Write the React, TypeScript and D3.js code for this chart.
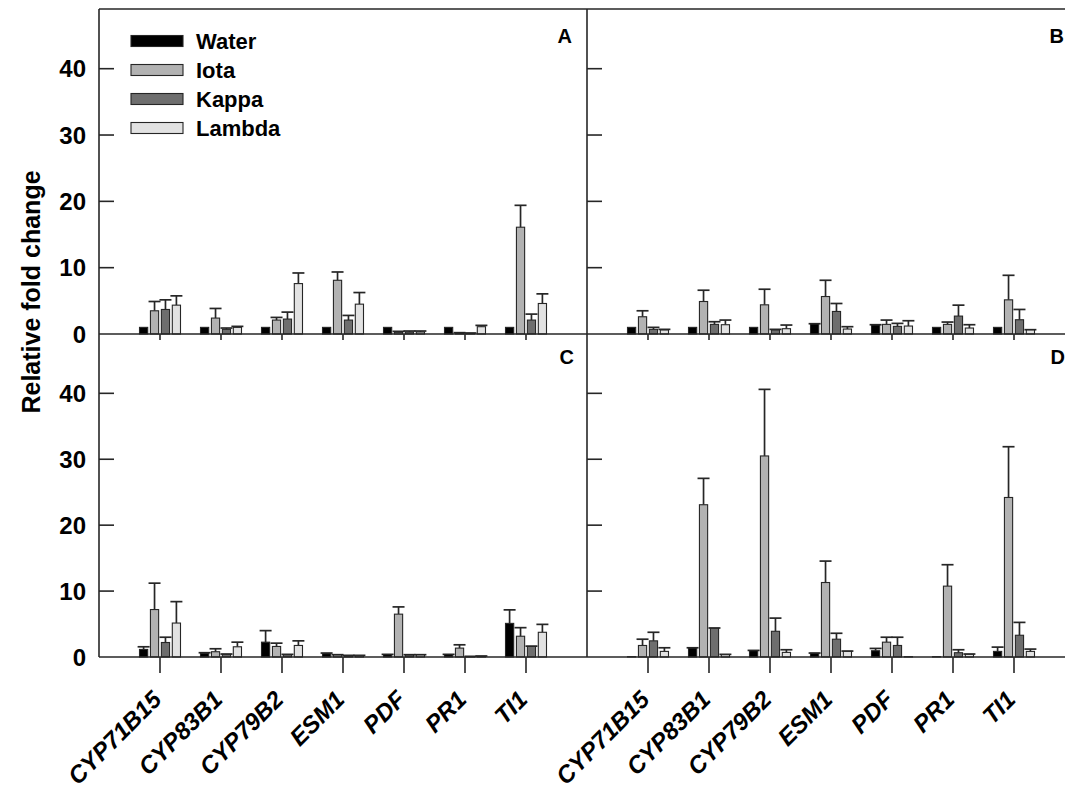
import React from "react";
import * as d3 from "d3";

const genes = ["CYP71B15", "CYP83B1", "CYP79B2", "ESM1", "PDF", "PR1", "TI1"];
const series = ["Water", "Iota", "Kappa", "Lambda"];
const seriesColors = ["#000000", "#b2b2b2", "#6e6e6e", "#e2e2e2"];
const yTicks = [0, 10, 20, 30, 40];

// Panel A
const aWater = [1.0, 1.0, 1.0, 1.0, 1.0, 1.0, 1.0];
const aWaterErr = [0, 0, 0, 0, 0, 0, 0];
const aIota = [3.5, 2.4, 2.1, 8.1, 0.25, 0.15, 16.1];
const aIotaErr = [1.4, 1.45, 0.4, 1.25, 0.15, 0.05, 3.3];
const aKappa = [3.7, 0.7, 2.25, 2.1, 0.3, 0.1, 2.1];
const aKappaErr = [1.45, 0.2, 1.05, 0.7, 0.15, 0.05, 0.9];
const aLambda = [4.35, 1.0, 7.6, 4.5, 0.3, 1.1, 4.6];
const aLambdaErr = [1.4, 0.15, 1.6, 1.75, 0.15, 0.2, 1.45];

// Panel B
const bWater = [1.0, 1.0, 1.0, 1.5, 1.35, 1.0, 1.0];
const bWaterErr = [0, 0, 0, 0.05, 0.05, 0, 0];
const bIota = [2.6, 4.9, 4.4, 5.65, 1.45, 1.45, 5.15];
const bIotaErr = [0.9, 1.7, 2.35, 2.45, 0.65, 0.35, 3.7];
const bKappa = [0.7, 1.45, 0.6, 3.4, 1.15, 2.7, 2.15];
const bKappaErr = [0.3, 0.4, 0.1, 1.2, 0.45, 1.65, 1.55];
const bLambda = [0.6, 1.4, 0.8, 0.75, 1.2, 0.9, 0.6];
const bLambdaErr = [0.1, 0.7, 0.55, 0.35, 0.8, 0.5, 0.05];

// Panel C
const cWater = [1.15, 0.55, 2.25, 0.5, 0.35, 0.35, 5.1];
const cWaterErr = [0.4, 0.1, 1.75, 0.1, 0.05, 0.05, 2.05];
const cIota = [7.2, 0.8, 1.6, 0.3, 6.5, 1.35, 3.15];
const cIotaErr = [4.0, 0.45, 0.5, 0.05, 1.1, 0.5, 1.3];
const cKappa = [2.2, 0.4, 0.35, 0.2, 0.3, 0.05, 1.6];
const cKappaErr = [0.8, 0.05, 0.05, 0.05, 0.05, 0.05, 0.05];
const cLambda = [5.15, 1.55, 1.75, 0.2, 0.3, 0.1, 3.75];
const cLambdaErr = [3.25, 0.7, 0.7, 0.05, 0.05, 0.05, 1.2];

// Panel D
const dWater = [0.05, 1.35, 0.95, 0.55, 0.95, 0.05, 0.85];
const dWaterErr = [0, 0.05, 0.05, 0.05, 0.35, 0, 0.65];
const dIota = [1.75, 23.1, 30.5, 11.3, 2.25, 10.75, 24.2];
const dIotaErr = [0.95, 4.0, 10.1, 3.25, 0.75, 3.25, 7.7];
const dKappa = [2.45, 4.35, 3.9, 2.7, 1.75, 0.65, 3.3];
const dKappaErr = [1.3, 0.05, 2.0, 0.9, 1.25, 0.45, 1.95];
const dLambda = [0.85, 0.35, 0.7, 0.85, 0.05, 0.4, 0.85];
const dLambdaErr = [0.55, 0.05, 0.4, 0.05, 0, 0.05, 0.35];

const panels = [
  { id: "A", col: 0, row: 0, vals: [aWater, aIota, aKappa, aLambda], errs: [aWaterErr, aIotaErr, aKappaErr, aLambdaErr] },
  { id: "B", col: 1, row: 0, vals: [bWater, bIota, bKappa, bLambda], errs: [bWaterErr, bIotaErr, bKappaErr, bLambdaErr] },
  { id: "C", col: 0, row: 1, vals: [cWater, cIota, cKappa, cLambda], errs: [cWaterErr, cIotaErr, cKappaErr, cLambdaErr] },
  { id: "D", col: 1, row: 1, vals: [dWater, dIota, dKappa, dLambda], errs: [dWaterErr, dIotaErr, dKappaErr, dLambdaErr] },
];

const W = 1065;
const H = 791;
const FONT = "'Liberation Sans', Arial, sans-serif";
const AX = "#262626";

const colX0 = [99, 587];
const panelW = 488;
const rowY = [
  { top: 9, zero: 334 },
  { top: 334, zero: 657 },
];
const yMax = 49;

export default function App() {
  const xScales = colX0.map((x0) => d3.scaleLinear().domain([0, 8]).range([x0, x0 + panelW]));
  const yScales = rowY.map((r) => d3.scaleLinear().domain([0, yMax]).range([r.zero, r.top]));
  const inner = d3.scaleBand<string>().domain(series).range([-20.5, 20.5]).paddingInner(0.25);
  const bw = inner.bandwidth();
  const capW = 12;

  return (
    <svg width={W} height={H} style={{ position: "absolute", left: 0, top: 0, background: "#fff" }} fontFamily={FONT}>
      {/* bars */}
      {panels.map((p) => {
        const xs = xScales[p.col];
        const ys = yScales[p.row];
        return (
          <g key={p.id}>
            {genes.map((g, gi) =>
              series.map((s, si) => {
                const v = p.vals[si][gi];
                const e = p.errs[si][gi];
                const cx = xs(gi + 1) + (inner(s) as number);
                const yv = ys(v);
                const ye = ys(v + e);
                return (
                  <g key={g + s}>
                    {e > 0 && (
                      <g stroke={AX} strokeWidth={1.7}>
                        <line x1={cx + bw / 2} x2={cx + bw / 2} y1={yv} y2={ye} />
                        <line x1={cx + bw / 2 - capW / 2} x2={cx + bw / 2 + capW / 2} y1={ye} y2={ye} />
                      </g>
                    )}
                    <rect x={cx} y={yv} width={bw} height={Math.max(0, ys(0) - yv)} fill={seriesColors[si]} stroke={AX} strokeWidth={1.1} />
                  </g>
                );
              })
            )}
          </g>
        );
      })}

      {/* axes frame */}
      <g stroke={AX} strokeWidth={1.6} fill="none">
        <line x1={colX0[0]} x2={W} y1={rowY[0].top} y2={rowY[0].top} />
        <line x1={colX0[0]} x2={W} y1={rowY[0].zero} y2={rowY[0].zero} />
        <line x1={colX0[0]} x2={W} y1={rowY[1].zero} y2={rowY[1].zero} />
        <line x1={colX0[0]} x2={colX0[0]} y1={rowY[0].top} y2={rowY[1].zero} />
        <line x1={colX0[1]} x2={colX0[1]} y1={rowY[0].top} y2={rowY[1].zero} />
      </g>

      {/* y ticks */}
      {yScales.map((ys, ri) => (
        <g key={"yt" + ri}>
          {colX0.map((x0) =>
            yTicks
              .filter((t) => t > 0)
              .map((t) => <line key={x0 + "-" + t} x1={x0} x2={x0 + 15} y1={ys(t)} y2={ys(t)} stroke={AX} strokeWidth={1.6} />)
          )}
          {yTicks.map((t) => (
            <text key={"l" + t} x={86} y={ys(t)} dy="0.36em" textAnchor="end" fontSize={24} fontWeight="bold" fill="#000">
              {t}
            </text>
          ))}
        </g>
      ))}

      {/* x category ticks */}
      {xScales.map((xs, ci) =>
        genes.map((g, gi) => (
          <g key={"xt" + ci + g} stroke={AX} strokeWidth={1.6}>
            <line x1={xs(gi + 1)} x2={xs(gi + 1)} y1={rowY[0].zero} y2={rowY[0].zero + 6} />
            <line x1={xs(gi + 1)} x2={xs(gi + 1)} y1={rowY[1].zero} y2={rowY[1].zero + 16} />
          </g>
        ))
      )}

      {/* x labels */}
      {xScales.map((xs, ci) =>
        genes.map((g, gi) => (
          <text
            key={"xl" + ci + g}
            transform={`translate(${xs(gi + 1) + 3},${rowY[1].zero + 44}) rotate(-45)`}
            textAnchor="end"
            fontSize={24}
            fontWeight="bold"
            fontStyle="italic"
            fill="#000"
          >
            {g}
          </text>
        ))
      )}

      {/* y title */}
      <text transform={`translate(40,292) rotate(-90)`} textAnchor="middle" fontSize={25} fontWeight="bold" fill="#000">
        Relative fold change
      </text>

      {/* panel letters */}
      <text x={572} y={43} textAnchor="end" fontSize={20} fontWeight="bold">A</text>
      <text x={1064} y={43} textAnchor="end" fontSize={20} fontWeight="bold">B</text>
      <text x={574} y={364} textAnchor="end" fontSize={20} fontWeight="bold">C</text>
      <text x={1065} y={364} textAnchor="end" fontSize={20} fontWeight="bold">D</text>

      {/* legend */}
      {series.map((s, si) => {
        const cy = 41 + si * 29;
        return (
          <g key={"lg" + s}>
            <rect x={131} y={cy - 5.5} width={52} height={11} fill={seriesColors[si]} stroke={AX} strokeWidth={1.1} />
            <text x={196} y={cy} dy="0.36em" fontSize={22} fontWeight="bold" fill="#000">
              {s}
            </text>
          </g>
        );
      })}
    </svg>
  );
}
